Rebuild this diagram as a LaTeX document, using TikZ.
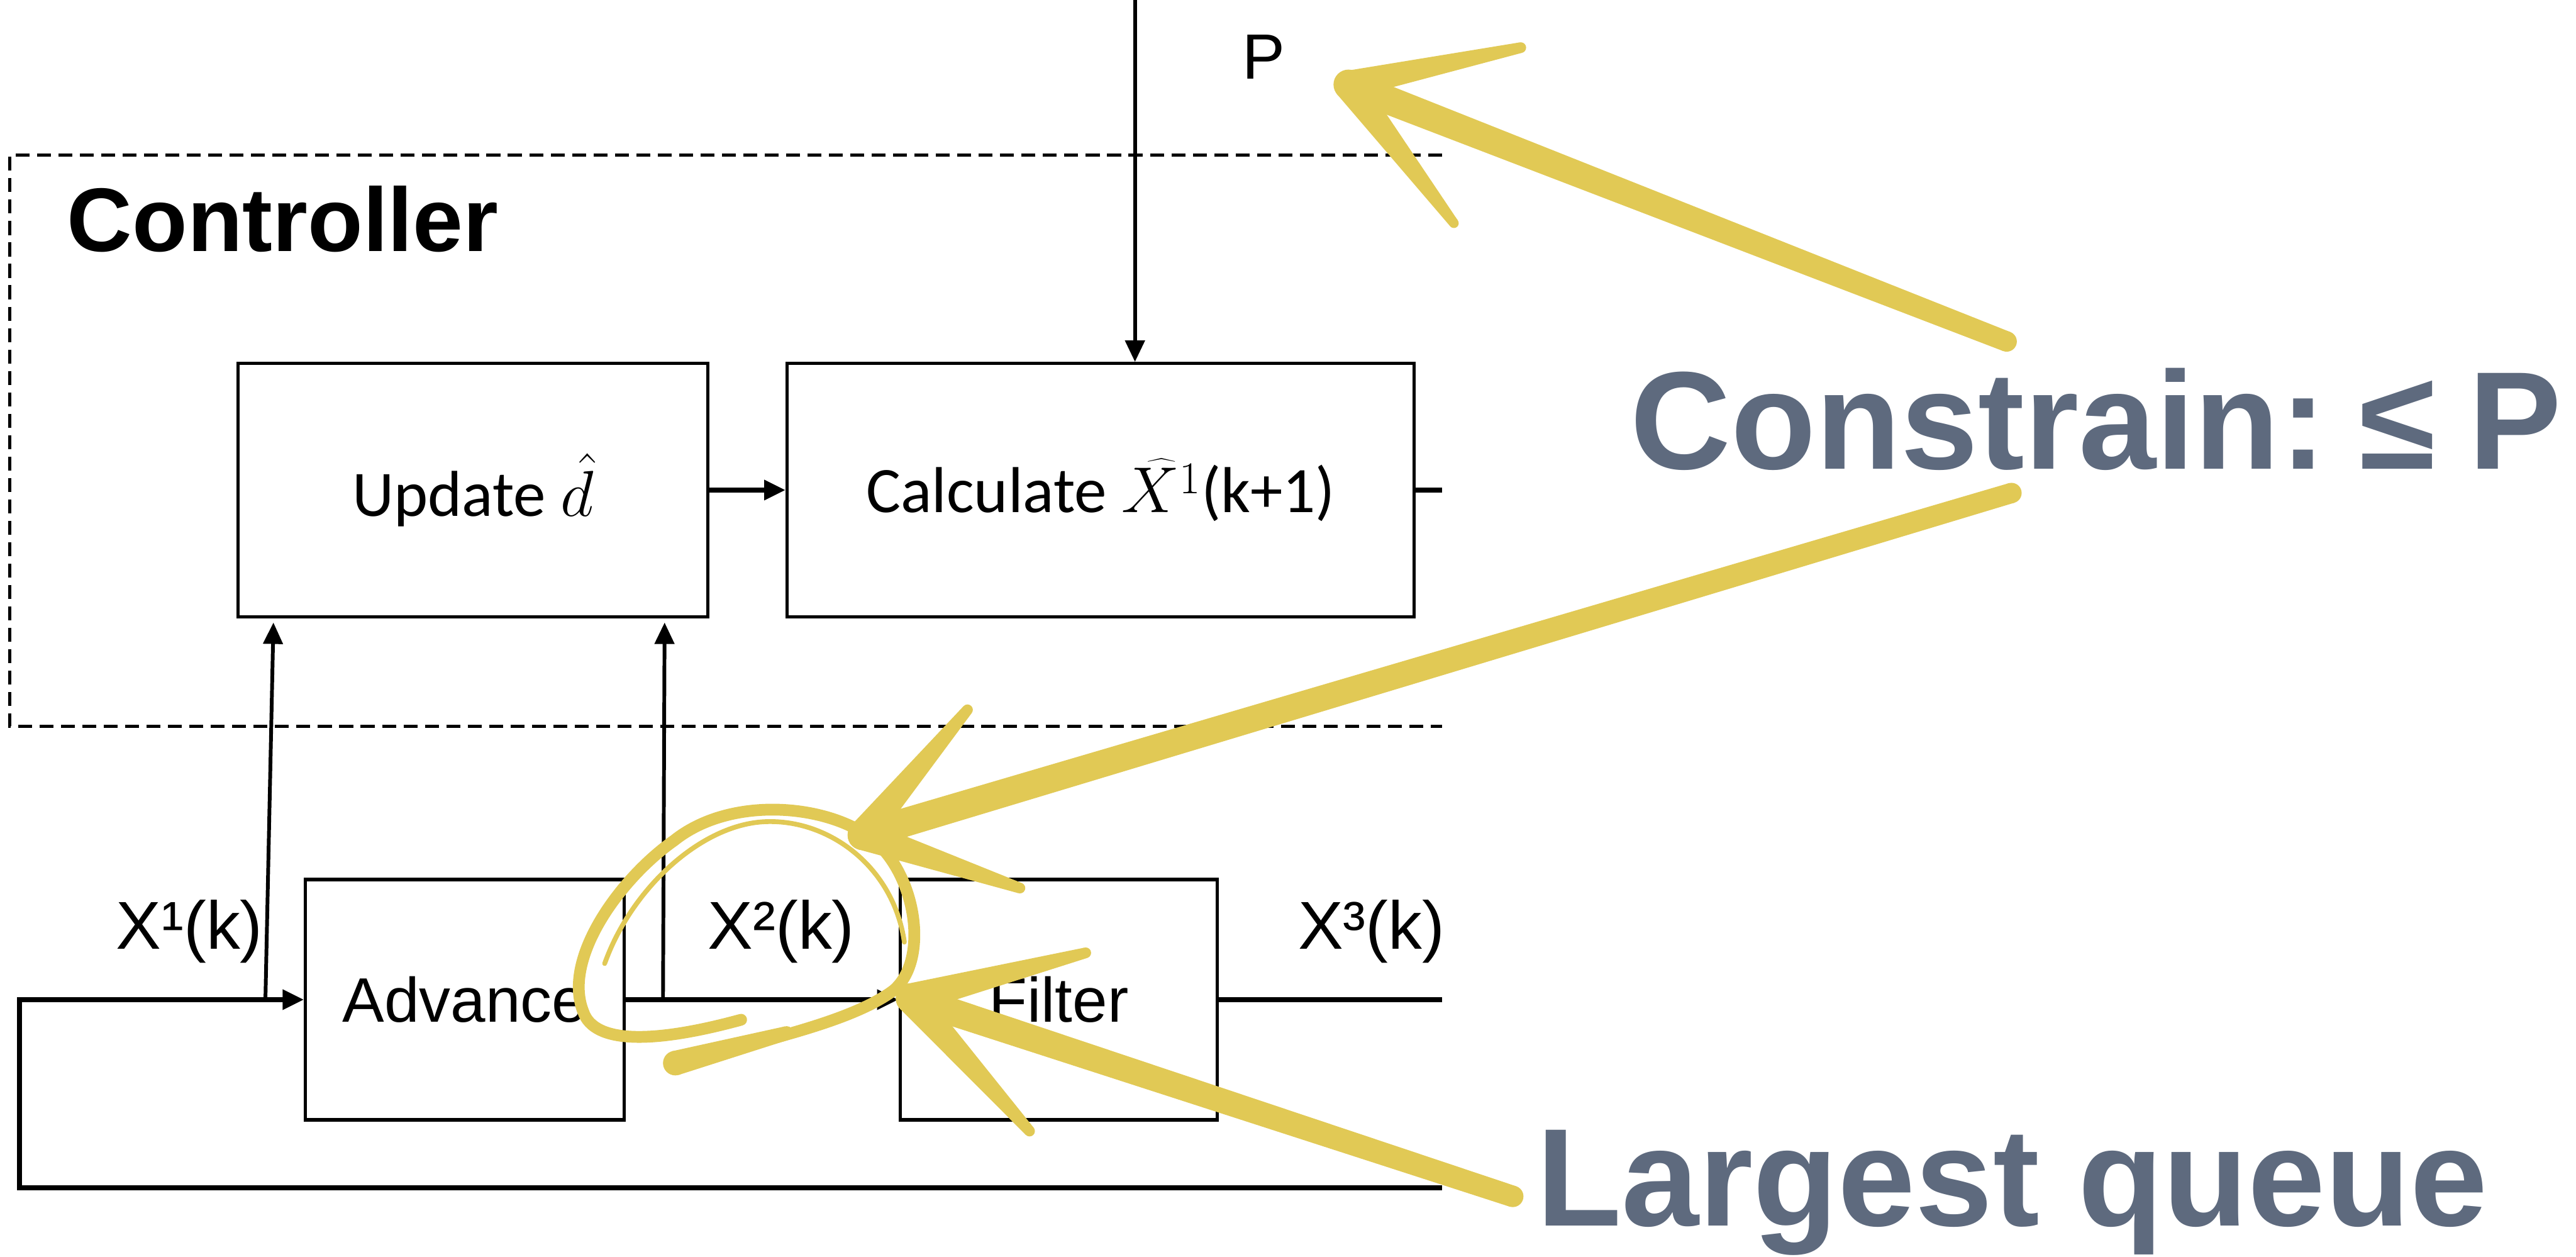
\documentclass[tikz,border=0pt]{standalone}
\usepackage{fix-cm}
\usepackage{fontspec}
\setmainfont{Liberation Sans}
\newfontfamily\calibri{Carlito}
\usetikzlibrary{arrows.meta,calc}
\definecolor{chalk}{HTML}{E1C955}
\definecolor{slate}{HTML}{5E6A7E}
% tapered chalk stroke: from #1 (half width #3) to #2 (half width #4)
\newcommand\chalkline[4]{%
    \fill[chalk] ($(#1)!#3!90:(#2)$) -- ($(#2)!#4!-90:(#1)$) -- ($(#2)!#4!90:(#1)$) -- ($(#1)!#3!-90:(#2)$) -- cycle;
    \fill[chalk] (#1) circle[radius=#3] (#2) circle[radius=#4];}

\begin{document}
\begin{tikzpicture}[>={Triangle[length=4mm,width=3.6mm]},
    box/.style={draw,line width=0.6mm,minimum height=4.73cm,inner sep=0pt},
    sig/.style={line width=0.95mm},
    tap/.style={line width=0.7mm},
    lbl/.style={font=\fontsize{36}{40}\selectfont,anchor=base},
    yel/.style={chalk,line cap=round,line join=round},
    callout/.style={slate,font=\fontsize{74}{80}\selectfont\bfseries,anchor=base west,inner sep=0pt}]
    \useasboundingbox (0,0) rectangle (48.14,-23.48);

    \begin{scope}
        \clip (0,0) rectangle (26.95,-23.48);
        % controller frame, open on the right
        \draw[line width=0.6mm,dash pattern=on 2.6mm off 1.4mm] (26.95,-2.90) -- (0.18,-2.90) -- (0.18,-13.57) -- (26.95,-13.57);
        \node[font=\fontsize{48}{56}\selectfont\bfseries,anchor=base west] (ctl) at (1.13,-4.69) {Controller};

        \node[box,minimum width=8.78cm,font=\calibri\fontsize{34.5}{40}\selectfont] (upd) at (8.84,-9.155) {Update $\hat{d}$};
        \node[box,minimum width=11.72cm,font=\calibri\fontsize{34.5}{40}\selectfont] (calc) at (20.57,-9.155) {Calculate $\widehat{X^1}$(k+1)};
        \node[box,minimum width=5.95cm,minimum height=4.49cm,font=\fontsize{33.4}{40}\selectfont] (adv) at (8.685,-18.675) {Advance};
        \node[box,minimum width=5.93cm,minimum height=4.49cm,font=\fontsize{33.4}{40}\selectfont] (fil) at (19.785,-18.675) {Filter};

        \node[lbl,font=\fontsize{34}{40}\selectfont] (p) at (23.62,-1.47) {P};
        \node[lbl] (x1) at (3.54,-17.73) {X¹(k)};
        \node[lbl] (x2) at (14.60,-17.73) {X²(k)};
        \node[lbl] (x3) at (25.63,-17.73) {X³(k)};

        \coordinate (pin) at (21.21,0);
        \coordinate (edge) at (26.95,-18.675);
        \coordinate (corner) at (0.36,-22.19);
        \coordinate (b1) at (4.96,-18.675);
        \coordinate (b2) at (12.39,-18.675);

        \draw[tap,->] (pin) -- (pin |- calc.north);
        \draw[sig,->] (upd) -- (calc);
        \draw[sig] (calc.east) -- (calc.east -| edge);

        \draw[sig,->] (edge |- corner) -- (corner) |- (adv.west);
        \draw[sig,->] (adv) -- (fil);
        \draw[sig] (fil.east) -- (edge);

        \draw[tap,->] (b1) -- ([xshift=6.9mm,yshift=-0.8mm]upd.south west);
        \draw[tap,->] (b2) -- ([xshift=-8.4mm,yshift=-0.8mm]upd.south east);
    \end{scope}

    % hand-drawn marks
    \coordinate (t1) at (25.2,-1.58);
    \coordinate (s1) at (37.5,-6.38);
    \coordinate (w1a) at (28.42,-0.89);
    \coordinate (w1b) at (27.17,-4.17);
    \chalkline{t1}{s1}{2.7mm}{1.9mm}
    \chalkline{t1}{w1a}{2.6mm}{1.0mm}
    \chalkline{t1}{w1b}{2.8mm}{0.9mm}

    \coordinate (t2) at (16.12,-15.6);
    \coordinate (s2) at (37.59,-9.21);
    \coordinate (w2a) at (18.08,-13.26);
    \coordinate (w2b) at (19.06,-16.59);
    \chalkline{t2}{s2}{2.7mm}{1.9mm}
    \chalkline{t2}{w2a}{2.8mm}{1.0mm}
    \chalkline{t2}{w2b}{2.8mm}{1.0mm}

    \coordinate (t3) at (17.02,-18.65);
    \coordinate (s3) at (28.27,-22.35);
    \coordinate (w3a) at (20.29,-17.80);
    \coordinate (w3b) at (19.24,-21.13);
    \chalkline{t3}{s3}{2.6mm}{2.0mm}
    \chalkline{t3}{w3a}{2.8mm}{1.0mm}
    \chalkline{t3}{w3b}{2.8mm}{1.0mm}

    % loop round X^2(k)
    \draw[yel,line width=2.2mm] (12.6,-19.88) .. controls (14.2,-19.45) and (15.9,-19.1) .. (16.7,-18.5)
        .. controls (17.4,-17.9) and (17.1,-16.2) .. (16.2,-15.6)
        .. controls (15.3,-15.0) and (13.6,-14.9) .. (12.6,-15.7)
        .. controls (11.6,-16.4) and (10.5,-17.9) .. (10.9,-18.9)
        .. controls (11.1,-19.5) and (12.2,-19.5) .. (13.85,-19.05);
    \coordinate (l1) at (12.62,-19.86);
    \coordinate (l2) at (14.7,-19.3);
    \chalkline{l1}{l2}{2.3mm}{1.3mm}
    \draw[yel,line width=0.9mm] (16.9,-17.6) .. controls (16.7,-16.2) and (15.5,-15.3) .. (14.3,-15.35)
        .. controls (13.1,-15.4) and (11.8,-16.6) .. (11.3,-18.0);

    \node[callout] (cons) at (30.46,-8.76) {\hbox to 17.4cm{Constrain:\hfil ≤\hfil P}};
    \node[callout] (queue) at (28.71,-22.90) {Largest queue};
\end{tikzpicture}
\end{document}
